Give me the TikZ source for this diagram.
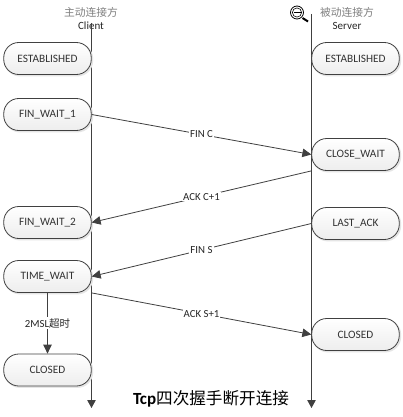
\documentclass[tikz,border=0pt]{standalone}
\usepackage{fontspec}
\setmainfont{Carlito}
\newfontfamily\cjk{Noto Sans CJK SC}
\usetikzlibrary{arrows.meta}
\definecolor{ln}{HTML}{404040}
\tikzset{
  state/.style={draw=ln,line width=.8pt,rounded corners=15pt,minimum width=87.5pt,minimum height=32pt,inner sep=0pt,
    top color=white,bottom color=black!7,font=\fontsize{11.3}{12}\selectfont,text=black!80,
    preaction={draw=black!10,line width=1.4pt,fill=black!10,transform canvas={xshift=1.2pt,yshift=-1.2pt},rounded corners=15pt}},
  life/.style={draw=ln,line width=.9pt,-{Triangle[length=8pt,width=8.5pt]}},
  msg/.style={draw=ln,line width=.8pt},
  tip/.style={-{Triangle[length=9pt,width=8.5pt]}},
  lbl/.style={fill=white,inner sep=1pt,font=\fontsize{10.8}{12}\selectfont,text=black!85},
  head/.style={font=\cjk\fontsize{10.8}{12}\selectfont,text=black!50,inner sep=0pt},
  sub/.style={font=\fontsize{11}{12}\selectfont,text=black!85,inner sep=0pt}
}
\begin{document}
\begin{tikzpicture}[x=1pt,y=-1pt]
\useasboundingbox[fill=white] (0,0) rectangle (403,417);
\node[head] (h1) at (91,12) {主动连接方};
\node[sub] (c1) at (91,26) {Client};
\node[head] (h2) at (347,12) {被动连接方};
\node[sub] (c2) at (347,26) {Server};
\coordinate (a1) at (91.5,23); \coordinate (a2) at (91.5,408);
\coordinate (b1) at (311.5,14); \coordinate (b2) at (311.5,408);
\draw[life] (a1) -- (a2);
\draw[life] (b1) -- (b2);
\node[state] (e1) at (47.5,58.5) {ESTABLISHED};
\node[state] (f1) at (47.5,114.5) {FIN\_WAIT\_1};
\node[state] (f2) at (47.5,222.5) {FIN\_WAIT\_2};
\node[state] (t1) at (47.5,276.5) {TIME\_WAIT};
\node[state] (c3) at (47.5,370) {CLOSED};
\node[state] (e2) at (355.5,58.5) {ESTABLISHED};
\node[state] (w1) at (355.5,154.5) {CLOSE\_WAIT};
\node[state] (l1) at (355.5,223.5) {LAST\_ACK};
\node[state] (c4) at (355.5,334.5) {CLOSED};
\draw[msg,tip] (f1.east) -- node[lbl] {FIN C} (w1.west);
\draw[msg,tip] (w1.south west) -- node[lbl] {ACK C+1} (f2.east);
\draw[msg,tip] (l1.west) -- node[lbl] {FIN S} (t1.east);
\draw[msg,tip] (t1.south east) -- node[lbl] {ACK S+1} (c4.west);
\draw[msg,tip] (t1.south) -- node[lbl] {2MSL{\cjk\fontsize{10.5}{12}\selectfont 超时}} (c3.north);
\node[inner sep=0pt] (title) at (211,399) {\fontsize{17}{18}\selectfont\bfseries Tcp{\cjk\mdseries\fontsize{16.6}{18}\selectfont 四次握手断开连接}};
% magnifier
\coordinate (m0) at (297,12.5);
\coordinate (m1) at (302.5,18); \coordinate (m2) at (308,21.5);
\draw[black,line width=2pt] (m1) -- (m2);
\draw[black,line width=.8pt,fill=white] (m0) circle (6.5pt);
\draw[black,line width=.6pt] (m0) circle (4.6pt);
\draw[black,line width=1.4pt] (293.5,12.5) -- (300.5,12.5);
\end{tikzpicture}
\end{document}
